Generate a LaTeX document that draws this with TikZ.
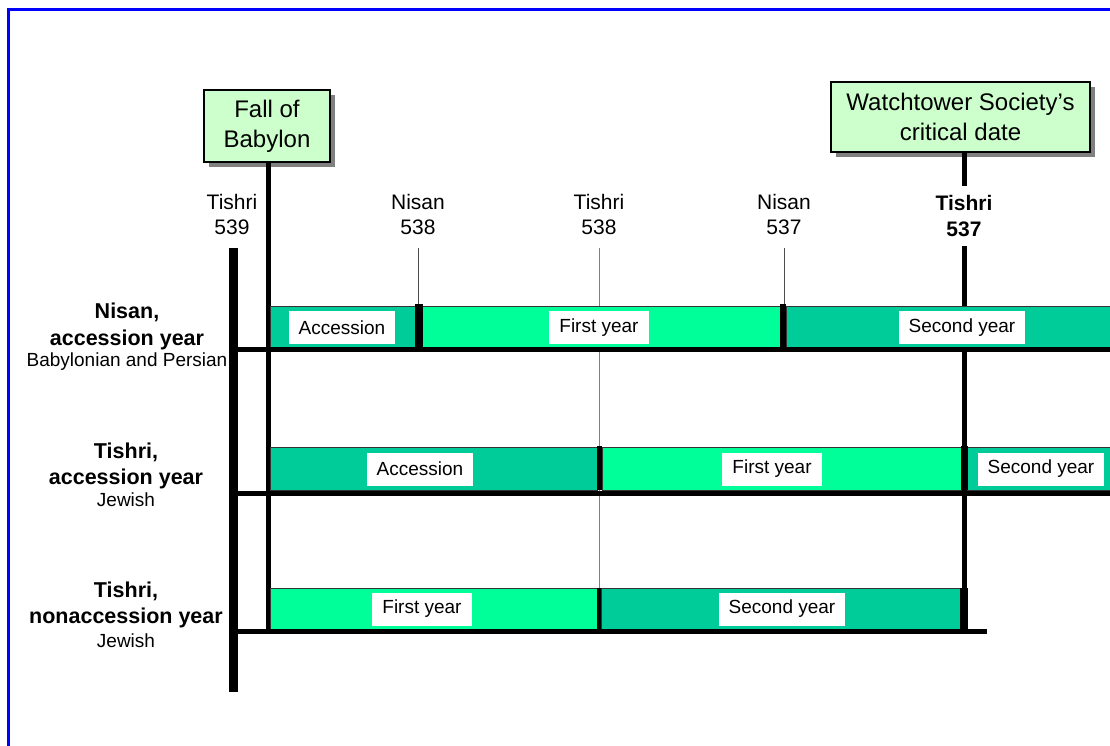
\documentclass[tikz,border=0pt]{standalone}
\usepackage{fontspec}
\setmainfont{Liberation Sans}
\usetikzlibrary{positioning,shadows}
\definecolor{accgreen}{HTML}{00CC99}
\definecolor{yeargreen}{HTML}{00FF99}
\definecolor{notegreen}{HTML}{CCFFCC}
\definecolor{frameblue}{HTML}{0000FF}

\begin{document}
\begin{tikzpicture}[x=1pt,y=-1pt,
  note/.style={draw,line width=1.2pt,fill=notegreen,align=center,
    font=\fontsize{24}{30}\selectfont,inner sep=0pt,
    drop shadow={shadow xshift=5pt,shadow yshift=-5pt,fill=gray,opacity=1}},
  datelabel/.style={align=center,font=\fontsize{21}{25}\selectfont,fill=white,inner xsep=2pt,inner ysep=9pt},
  rowhead/.style={align=center,font=\bfseries\fontsize{21.5}{26.5}\selectfont,inner sep=0pt},
  rowsub/.style={font=\fontsize{19}{22}\selectfont,inner sep=0pt},
  yearbox/.style={fill=white,font=\fontsize{19}{22}\selectfont,inner xsep=10pt,minimum height=33pt},
  acc/.style={fill=accgreen,draw=black!80,line width=0.6pt},
  yr/.style={fill=yeargreen,draw=black!80,line width=0.6pt},
  rowbase/.style={line width=5pt},
  thinrule/.style={line width=0.9pt,black!70}]
\useasboundingbox (0,0) rectangle (1110,746);
\draw[frameblue,line width=2.5pt] (8.7,746) -- (8.7,9.5) -- (1110,9.5);

% callouts
\node[note,minimum width=126pt,minimum height=72pt] (fall) at (267,126) {Fall of\\Babylon};
\node[note,minimum width=259pt,minimum height=70pt] (watch) at (960.5,117) {Watchtower Society’s\\critical date};

\coordinate (axistop) at (233.5,248);
\coordinate (axisbot) at (233.5,692);
\coordinate (fallbot) at (268.5,631);
\coordinate (critbot) at (964,631);
\coordinate (r1top) at (0,306);
\coordinate (r3top) at (0,588);

\draw[line width=4.5pt] (fall.south -| fallbot) -- (fallbot);
\draw[line width=5pt] (watch.south -| critbot) -- (critbot);

% month labels
\node[datelabel] (t539) at (232,214.5) {Tishri\\539};
\node[datelabel] (n538) at (418,214.5) {Nisan\\538};
\node[datelabel] (t538) at (599,214.5) {Tishri\\538};
\node[datelabel] (n537) at (784,214.5) {Nisan\\537};
\node[datelabel,font=\bfseries\fontsize{21}{26}\selectfont] (t537) at (964,216) {Tishri\\537};

\draw[thinrule] (n538 |- axistop) -- (n538 |- r1top);
\draw[thinrule] (n537 |- axistop) -- (n537 |- r1top);
\draw[thinrule,black!50] (t538 |- axistop) -- (t538 |- r3top);
\draw[line width=9pt] (axistop) -- (axisbot);

% bars
\foreach \a/\b/\s in {270/415/acc, 421/781/yr, 786/1112/acc}
  \draw[\s] (\a,306) rectangle (\b,348);
\foreach \a/\b/\s in {270/597/acc, 602/961/yr, 967/1112/acc}
  \draw[\s] (\a,447) rectangle (\b,490);
\foreach \a/\b/\s in {270/597/yr, 601/961/acc}
  \draw[\s] (\a,588) rectangle (\b,629);
\foreach \x/\w/\t/\u in {418.5/8/304/348, 783/6/304/348, 599.5/5/446/490,
    964/7/446/490, 599/4/588/630, 964/8/588/631}
  \draw[line width=\w pt] (\x,\t) -- (\x,\u);

\draw[rowbase] (237,349.5) -- (1110,349.5);
\draw[rowbase] (237,493.5) -- (1110,493.5);
\draw[rowbase] (237,631.5) -- (987,631.5);

\foreach \x/\y/\t [count=\i] in {342/327.5/Accession, 599/327.5/First year,
    962/327.5/Second year, 420/469/Accession, 772/469/First year,
    1041/469/Second year, 422/609/First year, 782/609/Second year}
  \node[yearbox] (yr\i) at (\x,\y) {\t};

% row headings
\node[rowhead] (nisanhead) at (127,326.5) {Nisan,\\accession year};
\node[rowsub] (nisansub) at (127,362) {Babylonian and Persian};
\node[rowhead] (tishrihead) at (126,466) {Tishri,\\accession year};
\node[rowsub] (tishrisub) at (126,500) {Jewish};
\node[rowhead] (nonhead) at (126,605) {Tishri,\\nonaccession year};
\node[rowsub] (nonsub) at (126,641) {Jewish};
\end{tikzpicture}
\end{document}
